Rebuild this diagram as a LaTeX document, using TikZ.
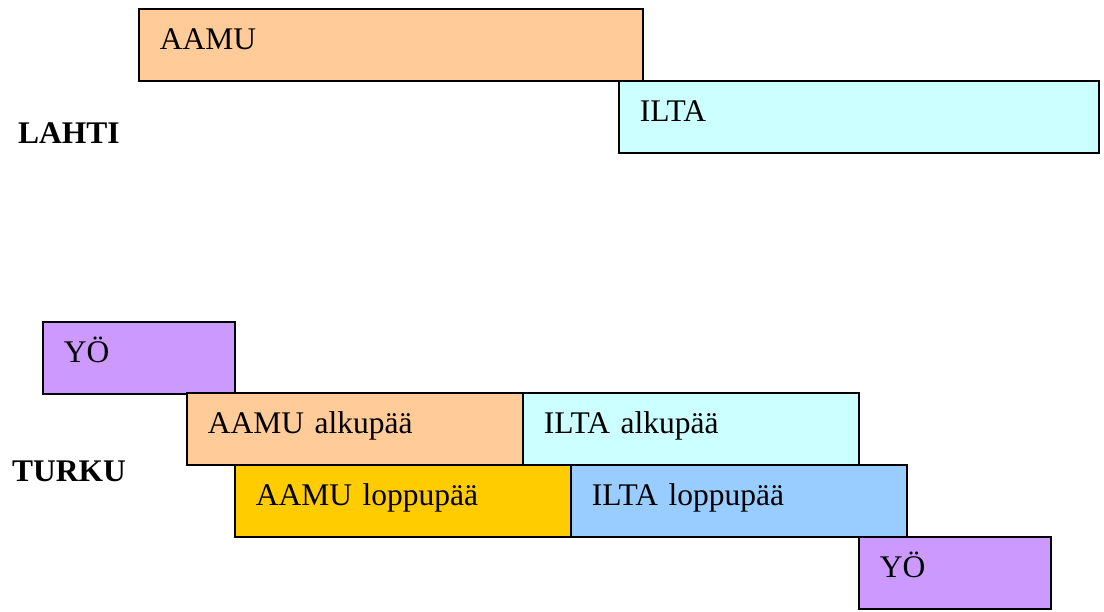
\documentclass[tikz,border=0pt]{standalone}
\usepackage{fontspec}
\setmainfont{Liberation Serif}
\definecolor{peach}{HTML}{FFCC99}
\definecolor{icecyan}{HTML}{CCFFFF}
\definecolor{lilac}{HTML}{CC99FF}
\definecolor{gold}{HTML}{FFCC00}
\definecolor{skyblue}{HTML}{99CCFF}
\tikzset{
  bar/.style n args={2}{draw=black, line width=1.6pt, fill=#1,
    anchor=north west, inner xsep=21pt, inner ysep=0pt,
    text width=#2, align=left, minimum height=72pt,
    text height=22pt, text depth=12pt,
    font=\fontsize{31.5}{36}\selectfont},
  city/.style={anchor=base west, inner sep=0pt,
    font=\fontsize{31.5}{36}\selectfont\bfseries}
}
\begin{document}
\begin{tikzpicture}[x=1pt,y=-1pt]
\useasboundingbox (0,0) rectangle (1104,612);
% Lahti shifts
\node[bar={peach}{462pt}]    (lahtiAamu) at (138,8)  {AAMU};
\node[bar={icecyan}{438pt}]  (lahtiIlta) at (618,80) {ILTA};
\node[city] (lahti) at (18,144) {LAHTI};
% Turku shifts
\node[bar={lilac}{150pt}]    (turkuYo1)   at (42,321)  {YÖ};
\node[bar={peach}{294pt}]    (aamuAlku)   at (186,392) {AAMU alkupää};
\node[bar={icecyan}{294pt}]  (iltaAlku)   at (522,392) {ILTA alkupää};
\node[bar={gold}{294pt}]     (aamuLoppu)  at (234,464) {AAMU loppupää};
\node[bar={skyblue}{294pt}]  (iltaLoppu)  at (570,464) {ILTA loppupää};
\node[bar={lilac}{150pt}]    (turkuYo2)   at (858,536) {YÖ};
\node[city] (turku) at (12,482) {TURKU};
\end{tikzpicture}
\end{document}
